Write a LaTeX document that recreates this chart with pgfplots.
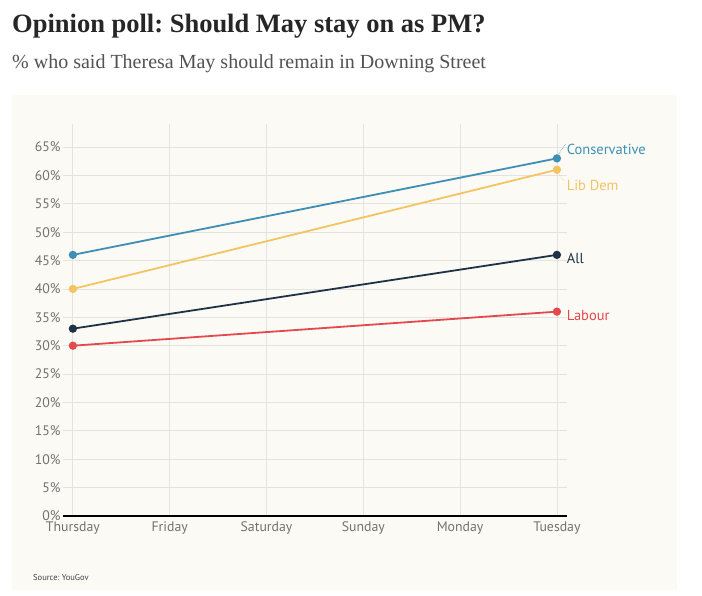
\documentclass[border=0pt]{standalone}
\usepackage{fontspec}
\setmainfont{Liberation Serif}
\newfontfamily\tickfont{PT Sans}
\usepackage{pgfplots}
\pgfplotsset{compat=1.18}
\definecolor{panel}{HTML}{FBFAF5}
\definecolor{cons}{HTML}{3D8FB5}
\definecolor{libdem}{HTML}{F4C462}
\definecolor{allc}{HTML}{1E3346}
\definecolor{lab}{HTML}{E34A4D}
\definecolor{gridc}{HTML}{E4E3DF}
\definecolor{tickc}{HTML}{727272}
\frenchspacing
\begin{document}
\begin{tikzpicture}
\fill[white] (0pt,0pt) rectangle (702pt,-595pt);
\fill[panel] (12pt,-95pt) rectangle (677pt,-590pt);
\node[anchor=base west, inner sep=0, font=\fontsize{26.5}{30}\selectfont\bfseries, text=black!85] at (12pt,-32pt) {Opinion poll: Should May stay on as PM?};
\node[anchor=base west, inner sep=0, font=\fontsize{20}{24}\selectfont, text=black!68] at (12pt,-68pt) {\% who said Theresa May should remain in Downing Street};
\node[anchor=base west, inner sep=0, font=\tickfont\fontsize{8.5}{10}\selectfont, text=black!75] at (33pt,-580pt) {Source: YouGov};
\begin{axis}[
  at={(63.2pt,-516pt)}, anchor=south west,
  scale only axis, width=503.4pt, height=391.7pt,
  xmin=-0.1, xmax=5.1, ymin=0, ymax=69,
  xtick={0,1,2,3,4,5},
  xticklabels={Thursday,Friday,Saturday,Sunday,Monday,Tuesday},
  ytick={0,5,10,15,20,25,30,35,40,45,50,55,60,65},
  yticklabels={0\%,5\%,10\%,15\%,20\%,25\%,30\%,35\%,40\%,45\%,50\%,55\%,60\%,65\%},
  grid=major, major grid style={gridc, line width=0.8pt},
  axis line style={draw=none},
  major tick length=0pt,
  tick label style={font=\tickfont\fontsize{13.8}{15}\selectfont, text=tickc},
  xticklabel style={yshift=-2pt},
  yticklabel style={xshift=1pt},
  clip=false,
]
\addplot[lab, line width=1.8pt, mark=*, mark size=3.2pt] coordinates {(0,30) (5,36)};
\addplot[allc, line width=1.8pt, mark=*, mark size=3.2pt] coordinates {(0,33) (5,46)};
\addplot[libdem, line width=1.8pt, mark=*, mark size=3.2pt] coordinates {(0,40) (5,61)};
\addplot[cons, line width=1.8pt, mark=*, mark size=3.2pt] coordinates {(0,46) (5,63)};
\draw[black, line width=1.5pt] (axis cs:-0.1,0) -- (axis cs:5.1,0);
\draw[cons, densely dotted, line width=0.6pt] (axis cs:5.02,63.8) -- (axis cs:5.09,65.6);
\draw[libdem, densely dotted, line width=0.6pt] (axis cs:5.02,60.2) -- (axis cs:5.08,58.9);
\node[anchor=west, inner sep=0, text=cons, font=\tickfont\fontsize{14.5}{16}\selectfont] at (axis cs:5.1,64.6) {Conservative};
\node[anchor=west, inner sep=0, text=libdem, font=\tickfont\fontsize{14.5}{16}\selectfont] at (axis cs:5.1,58.3) {Lib Dem};
\node[anchor=west, inner sep=0, text=allc, font=\tickfont\fontsize{14.5}{16}\selectfont] at (axis cs:5.1,45.3) {All};
\node[anchor=west, inner sep=0, text=lab, font=\tickfont\fontsize{14.5}{16}\selectfont] at (axis cs:5.1,35.4) {Labour};
\end{axis}
\end{tikzpicture}
\end{document}
